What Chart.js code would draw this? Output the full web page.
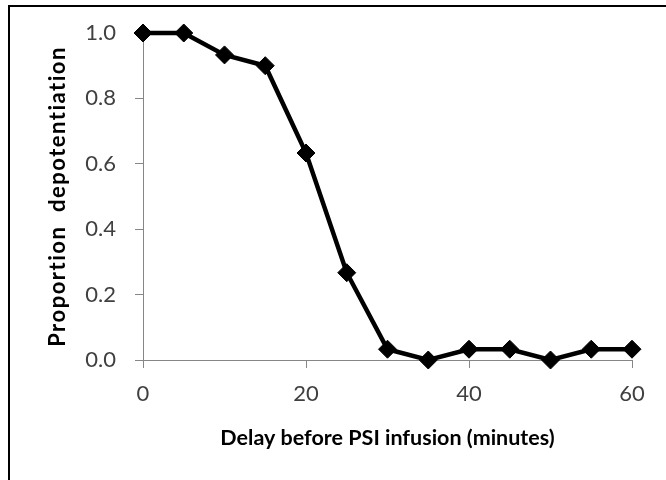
<!DOCTYPE html>
<html>
<head>
<meta charset="utf-8">
<script src="https://cdn.jsdelivr.net/npm/chart.js@4/dist/chart.umd.min.js"></script>
<style>
  html, body { margin: 0; padding: 0; background: #fff; }
  #wrap { position: relative; width: 666px; height: 480px; overflow: hidden; }
  #frame {
    position: absolute; left: 8px; top: 5px; width: 700px; height: 500px;
    border-left: 2px solid #000; border-top: 2px solid #000;
  }
  canvas { position: absolute; left: 0; top: 0; }
</style>
</head>
<body>
<div id="wrap">
  <div id="frame"></div>
  <canvas id="delayChart" width="666" height="480"></canvas>
</div>
<script>
// delay before PSI infusion (minutes)
let minutes = [0, 5, 10, 15, 20, 25, 30, 35, 40, 45, 50, 55, 60];
// proportion of animals showing depotentiation
let proportion = [1.0, 1.0, 0.933, 0.9, 0.633, 0.267, 0.033, 0.0, 0.033, 0.033, 0.0, 0.033, 0.033];
let xTicks = [0, 20, 40, 60];
let yTicks = [0, 0.2, 0.4, 0.6, 0.8, 1.0];

let axisGray = '#868686';
let tickFont = { family: 'Lato', size: 22 };

let points = minutes.map((m, i) => ({ x: m, y: proportion[i] }));

// the y title in the original is spaced out a bit more than the x title
function spacedTitle(scale, spacing) {
  if (scale._spacedTitle) return;
  let orig = scale.drawTitle;
  scale.drawTitle = function () {
    let c = this.ctx;
    c.save();
    c.letterSpacing = spacing;
    orig.call(this);
    c.restore();
  };
  scale._spacedTitle = true;
}

let ctx = document.getElementById("delayChart");
let chart = new Chart(ctx, {
  type: 'line',
  data: {
    datasets: [{
      data: points,
      borderColor: '#000',
      backgroundColor: '#000',
      borderWidth: 4.5,
      pointStyle: 'rectRot',
      pointRadius: 9,
      pointBorderWidth: 1,
      pointBackgroundColor: '#000',
      pointBorderColor: '#000',
      tension: 0,
      clip: false
    }]
  },
  options: {
    responsive: false,
    animation: false,
    layout: { padding: { left: 0, top: 33, right: 34, bottom: 0 } },
    plugins: { legend: { display: false }, tooltip: { enabled: false } },
    scales: {
      x: {
        type: 'linear',
        min: 0,
        max: 60,
        afterBuildTicks: (scale) => { scale.ticks = xTicks.map(v => ({ value: v })); },
        afterFit: (scale) => { scale.height = 120; },
        ticks: {
          color: '#404040',
          font: tickFont,
          padding: 13,
          maxRotation: 0,
          callback: (v) => String(v)
        },
        grid: { drawOnChartArea: false, drawTicks: true, tickLength: 8, color: axisGray, tickColor: axisGray },
        border: { display: true, color: axisGray, width: 1 },
        title: {
          display: true,
          text: 'Delay before PSI infusion (minutes)',
          color: '#000',
          font: { family: 'Lato', size: 21.5, weight: 'bold' },
          padding: { top: 0, bottom: 29 }
        }
      },
      y: {
        min: 0,
        max: 1,
        afterBuildTicks: (scale) => { scale.ticks = yTicks.map(v => ({ value: v })); },
        afterFit: (scale) => { scale.width = 143; spacedTitle(scale, '1.5px'); },
        ticks: {
          color: '#404040',
          font: tickFont,
          padding: 19,
          callback: (v) => v.toFixed(1)
        },
        grid: { drawOnChartArea: false, drawTicks: true, tickLength: 8, color: axisGray, tickColor: axisGray },
        border: { display: true, color: axisGray, width: 1 },
        title: {
          display: true,
          text: 'Proportion  depotentiation',
          color: '#000',
          font: { family: 'Lato', size: 22, weight: 'bold' },
          padding: { top: 45, bottom: 0 }
        }
      }
    }
  }
});
</script>
</body>
</html>
